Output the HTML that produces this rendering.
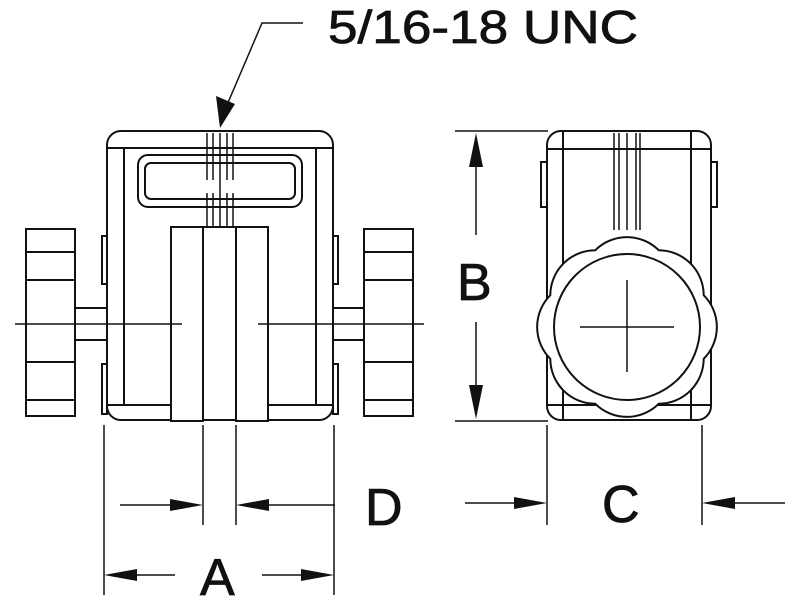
<!DOCTYPE html>
<html><head><style>
html,body{margin:0;padding:0;background:#fff;}
svg{display:block;}
text{font-family:"Liberation Sans",Arial,sans-serif;fill:#111;stroke:#111;stroke-width:0.8;}
</style></head><body>
<svg width="800" height="600" viewBox="0 0 800 600" xmlns="http://www.w3.org/2000/svg">
<g fill="none" stroke="#111" stroke-width="2">
<rect x="107" y="131" width="226" height="289" rx="14"/>
<line x1="107" y1="148" x2="333" y2="148"/>
<line x1="124" y1="148" x2="124" y2="405"/>
<line x1="316" y1="148" x2="316" y2="405"/>
<line x1="107" y1="405" x2="171" y2="405"/>
<line x1="268" y1="405" x2="333" y2="405"/>
<rect x="138" y="155" width="164" height="52" rx="10"/>
<rect x="145" y="163" width="150" height="36" rx="6"/>
<g stroke-width="1.5">
<line x1="207" y1="133" x2="207" y2="180"/><line x1="213" y1="133" x2="213" y2="180"/>
<line x1="220" y1="133" x2="220" y2="227"/><line x1="227" y1="133" x2="227" y2="180"/><line x1="233" y1="133" x2="233" y2="180"/>
<line x1="207" y1="193" x2="207" y2="227"/><line x1="213" y1="193" x2="213" y2="227"/>
<line x1="227" y1="193" x2="227" y2="227"/><line x1="233" y1="193" x2="233" y2="227"/>
</g>
<rect x="171" y="227" width="32" height="194" fill="#fff"/>
<rect x="236" y="227" width="32" height="194" fill="#fff"/>
<line x1="203" y1="227" x2="236" y2="227"/>
<rect x="102" y="236" width="5" height="48"/><rect x="102" y="364" width="5" height="50"/>
<rect x="333" y="236" width="5" height="48"/><rect x="333" y="364" width="5" height="50"/>
<rect x="26" y="229" width="49" height="187"/>
<line x1="26" y1="252" x2="75" y2="252"/><line x1="26" y1="280" x2="75" y2="280"/>
<line x1="26" y1="362" x2="75" y2="362"/><line x1="26" y1="400" x2="75" y2="400"/>
<rect x="75" y="308" width="32" height="32"/>
<rect x="364" y="229" width="49" height="187"/>
<line x1="364" y1="252" x2="413" y2="252"/><line x1="364" y1="280" x2="413" y2="280"/>
<line x1="364" y1="362" x2="413" y2="362"/><line x1="364" y1="400" x2="413" y2="400"/>
<rect x="333" y="308" width="31" height="32"/>
<line x1="15" y1="324" x2="182" y2="324" stroke-width="1.5"/>
<line x1="258" y1="324" x2="424" y2="324" stroke-width="1.5"/>

<rect x="547" y="131" width="164" height="289" rx="14"/>
<line x1="547" y1="149" x2="711" y2="149"/>
<line x1="563" y1="131" x2="563" y2="420"/>
<line x1="691" y1="131" x2="691" y2="420"/>
<line x1="547" y1="405" x2="711" y2="405"/>
<rect x="541" y="162" width="6" height="45"/><rect x="711" y="162" width="6" height="45"/>
<g stroke-width="1.5">
<line x1="614" y1="133" x2="614" y2="230"/><line x1="619" y1="133" x2="619" y2="230"/>
<line x1="627" y1="133" x2="627" y2="230"/>
<line x1="636" y1="133" x2="636" y2="230"/><line x1="640" y1="133" x2="640" y2="230"/>
</g>
<path fill="#fff" d="M703.7,358.8 A45,45 0 0 1 658.8,403.7 A45,45 0 0 1 595.2,403.7 A45,45 0 0 1 550.3,358.8 A45,45 0 0 1 550.3,295.2 A45,45 0 0 1 595.2,250.3 A45,45 0 0 1 658.8,250.3 A45,45 0 0 1 703.7,295.2 A45,45 0 0 1 703.7,358.8 Z"/>
<circle cx="627" cy="327" r="73" fill="#fff"/>
<line x1="580" y1="327" x2="674" y2="327" stroke-width="1.5"/>
<line x1="627" y1="280" x2="627" y2="372" stroke-width="1.5"/>

<g stroke-width="1.5">
<line x1="455" y1="131" x2="548" y2="131"/>
<line x1="455" y1="421" x2="548" y2="421"/>
<line x1="476" y1="140" x2="476" y2="235"/>
<line x1="476" y1="322" x2="476" y2="412"/>
<line x1="104" y1="425" x2="104" y2="595"/>
<line x1="334" y1="425" x2="334" y2="595"/>
<line x1="203" y1="425" x2="203" y2="525"/>
<line x1="236" y1="425" x2="236" y2="525"/>
<line x1="120" y1="505" x2="190" y2="505"/>
<line x1="335" y1="505" x2="250" y2="505"/>
<line x1="175" y1="575" x2="115" y2="575"/>
<line x1="262" y1="575" x2="322" y2="575"/>
<line x1="547" y1="425" x2="547" y2="525"/>
<line x1="702" y1="425" x2="702" y2="525"/>
<line x1="465" y1="503" x2="535" y2="503"/>
<line x1="785" y1="503" x2="715" y2="503"/>
<polyline points="303,23 262,23 224,112"/>
</g>
</g>
<g fill="#111">
<polygon points="476,133 469,167 483,167"/>
<polygon points="476,419 469,385 483,385"/>
<polygon points="203,505 170,499 170,511"/>
<polygon points="236,505 269,499 269,511"/>
<polygon points="104,575 137,569 137,581"/>
<polygon points="334,575 301,569 301,581"/>
<polygon points="547,503 514,497 514,509"/>
<polygon points="702,503 735,497 735,509"/>
<polygon points="220,128 216,96 235,104"/>
</g>
<text x="328" y="43" font-size="46" textLength="310" lengthAdjust="spacingAndGlyphs">5/16-18 UNC</text>
<text x="457" y="300" font-size="52">B</text>
<text x="365" y="525" font-size="52">D</text>
<text x="200" y="595" font-size="52">A</text>
<text x="602" y="522" font-size="52">C</text>
</svg>
</body></html>
